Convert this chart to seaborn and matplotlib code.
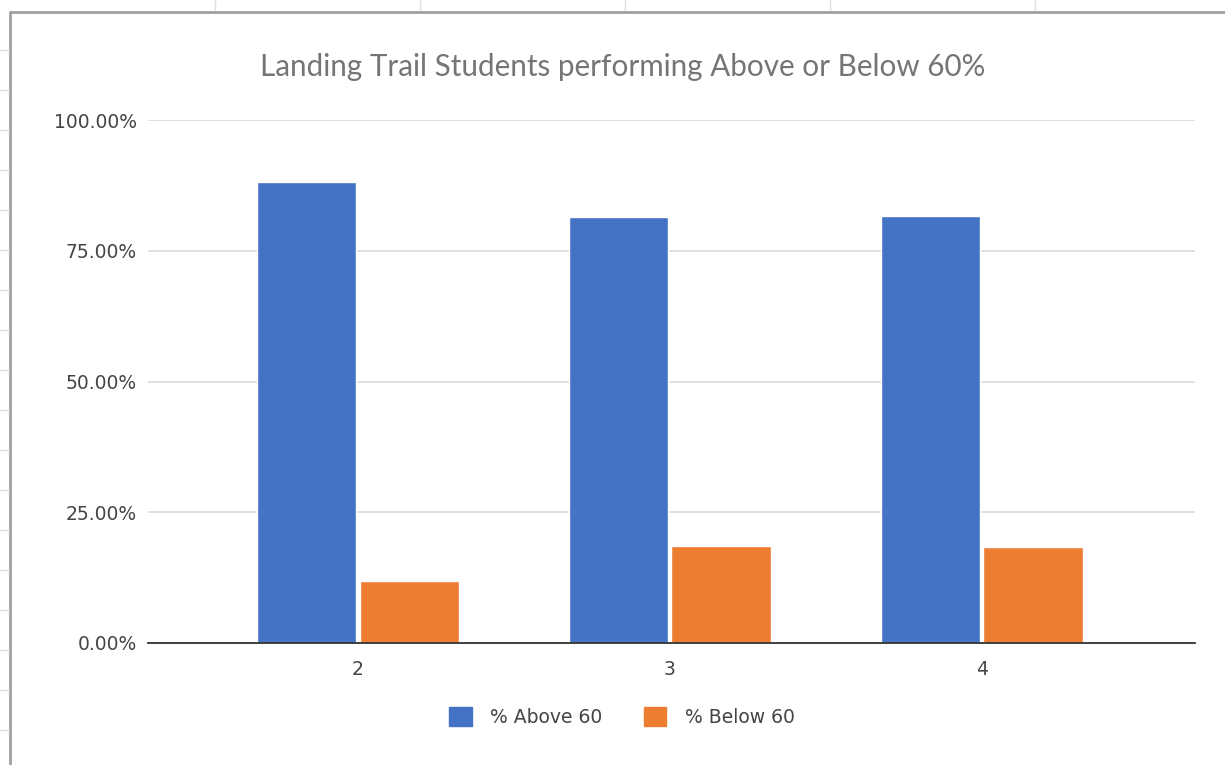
import seaborn as sns
import pandas as pd
import matplotlib.pyplot as plt
from matplotlib.ticker import PercentFormatter

grades = ["2", "3", "4"]
above_60 = [88.2, 81.4, 81.7]
below_60 = [11.8, 18.6, 18.3]
series = ["% Above 60", "% Below 60"]
colors = ["#4472C4", "#ED7D31"]

df = pd.DataFrame({
    "grade": grades * 2,
    "pct": above_60 + below_60,
    "series": [series[0]] * 3 + [series[1]] * 3,
})

sns.set_style("white")
plt.rcParams["font.family"] = ["DejaVu Sans"]

fig = plt.figure(figsize=(12.25, 7.65), dpi=100)
ax = fig.add_axes([148 / 1225, 1 - 643 / 765, 1047 / 1225, 523 / 765])

sns.barplot(data=df, x="grade", y="pct", hue="series", palette=colors,
            width=0.66, gap=0.03, saturation=1, ax=ax, legend=False)

ax.set_ylim(0, 100)
ax.set_xlim(-0.673, 2.683)
ax.set_yticks([0, 25, 50, 75, 100])
ax.yaxis.set_major_formatter(PercentFormatter(decimals=2))
ax.grid(axis="y", color="#d9d9d9", linewidth=1.2)
ax.set_axisbelow(True)
for s in ["top", "right", "left"]:
    ax.spines[s].set_visible(False)
ax.spines["bottom"].set_color("#333333")
ax.spines["bottom"].set_linewidth(1.3)
ax.tick_params(axis="both", length=0, labelsize=13.5, colors="#444444")
ax.tick_params(axis="y", pad=8)
ax.tick_params(axis="x", pad=12)
ax.set_xlabel("")
ax.set_ylabel("")

fig.text(623 / 1225, 1 - 67 / 765, "Landing Trail Students performing Above or Below 60%",
         ha="center", va="center", fontsize=21.3, color="#757575",
         family=["Lato", "DejaVu Sans"])

handles = [plt.Rectangle((0, 0), 1, 1, color=c) for c in colors]
fig.legend(handles, series, loc="center", bbox_to_anchor=(622 / 1225, 1 - 717 / 765),
           ncol=2, frameon=False, fontsize=13.5, handlelength=1.2, handleheight=1.2,
           columnspacing=2.2, handletextpad=1.0, labelcolor="#444444")

# spreadsheet frame around the chart
fig.add_artist(plt.Line2D([10 / 1225, 10 / 1225], [0, 1 - 12 / 765], color="#a0a0a0", lw=2))
fig.add_artist(plt.Line2D([10 / 1225, 1], [1 - 12 / 765, 1 - 12 / 765], color="#a0a0a0", lw=2))
for x in [215, 420, 625, 830, 1035]:
    fig.add_artist(plt.Line2D([x / 1225, x / 1225], [1 - 10 / 765, 1], color="#e0e0e0", lw=1))
for y in range(50, 765, 40):
    fig.add_artist(plt.Line2D([0, 9 / 1225], [1 - y / 765, 1 - y / 765], color="#e0e0e0", lw=1))

fig.savefig("out.png", dpi=100)
